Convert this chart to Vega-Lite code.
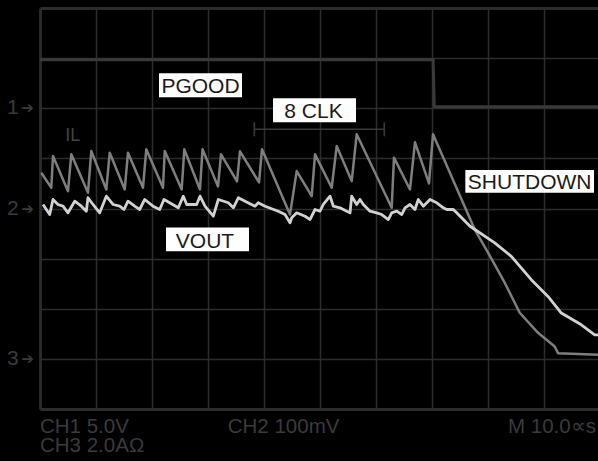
{
  "$schema": "https://vega.github.io/schema/vega-lite/v6.json",
  "width": 558,
  "height": 401,
  "autosize": {"type": "none"},
  "padding": {"left": 40, "top": 8, "right": 0, "bottom": 52},
  "background": "#000000",
  "config": {"view": {"stroke": null}, "text": {"font": "Liberation Sans"}},
  "datasets": {
    "xminor": [
      {"x":0.2},{"x":0.4},{"x":0.6},{"x":0.8},{"x":1.2},{"x":1.4},{"x":1.6},{"x":1.8},
      {"x":2.2},{"x":2.4},{"x":2.6},{"x":2.8},{"x":3.2},{"x":3.4},{"x":3.6},{"x":3.8},
      {"x":4.2},{"x":4.4},{"x":4.6},{"x":4.8},{"x":5.2},{"x":5.4},{"x":5.6},{"x":5.8},
      {"x":6.2},{"x":6.4},{"x":6.6},{"x":6.8},{"x":7.2},{"x":7.4},{"x":7.6},{"x":7.8},
      {"x":8.2},{"x":8.4},{"x":8.6},{"x":8.8},{"x":9.2},{"x":9.4},{"x":9.6},{"x":9.8}
    ],
    "yminor": [
      {"y":0.2},{"y":0.4},{"y":0.6},{"y":0.8},{"y":1.2},{"y":1.4},{"y":1.6},{"y":1.8},
      {"y":2.2},{"y":2.4},{"y":2.6},{"y":2.8},{"y":3.2},{"y":3.4},{"y":3.6},{"y":3.8},
      {"y":4.2},{"y":4.4},{"y":4.6},{"y":4.8},{"y":5.2},{"y":5.4},{"y":5.6},{"y":5.8},
      {"y":6.2},{"y":6.4},{"y":6.6},{"y":6.8},{"y":7.2},{"y":7.4},{"y":7.6},{"y":7.8}
    ],
    "pgood": [
      {"x":0,"y":6.97},{"x":7.02,"y":6.97},{"x":7.04,"y":6.03},{"x":9.964,"y":6.03}
    ],
    "il": [
      {"x":0.023,"y":4.714},{"x":0.202,"y":4.414},{"x":0.232,"y":5.046},{"x":0.5,"y":4.346},
      {"x":0.559,"y":5.08},{"x":0.857,"y":4.314},{"x":0.916,"y":5.146},{"x":1.184,"y":4.38},
      {"x":1.245,"y":5.114},{"x":1.513,"y":4.38},{"x":1.571,"y":5.114},{"x":1.839,"y":4.414},
      {"x":1.898,"y":5.18},{"x":2.196,"y":4.414},{"x":2.227,"y":5.146},{"x":2.53,"y":4.38},
      {"x":2.577,"y":5.18},{"x":2.857,"y":4.38},{"x":2.902,"y":5.18},{"x":3.179,"y":4.44},
      {"x":3.232,"y":5.08},{"x":3.518,"y":4.54},{"x":3.571,"y":5.14},{"x":3.911,"y":4.52},
      {"x":3.964,"y":5.18},{"x":4.464,"y":3.88},{"x":4.584,"y":4.746},{"x":4.852,"y":4.246},
      {"x":4.911,"y":5.08},{"x":5.209,"y":4.414},{"x":5.298,"y":5.246},{"x":5.566,"y":4.546},
      {"x":5.655,"y":5.48},{"x":6.28,"y":4.014},{"x":6.321,"y":5.014},{"x":6.607,"y":4.38},
      {"x":6.696,"y":5.32},{"x":6.946,"y":4.5},{"x":7.018,"y":5.48},{"x":7.763,"y":3.58},
      {"x":8.0,"y":3.12},{"x":8.298,"y":2.52},{"x":8.566,"y":1.92},{"x":8.893,"y":1.52},
      {"x":9.191,"y":1.246},{"x":9.25,"y":1.114},{"x":9.964,"y":1.08}
    ],
    "vout": [
      {"x":0.054,"y":4.08},{"x":0.173,"y":3.88},{"x":0.232,"y":4.18},{"x":0.321,"y":4.08},
      {"x":0.411,"y":4.046},{"x":0.5,"y":3.914},{"x":0.62,"y":4.146},{"x":0.738,"y":4.046},
      {"x":0.827,"y":3.946},{"x":0.857,"y":4.214},{"x":0.946,"y":4.08},{"x":1.066,"y":3.914},
      {"x":1.184,"y":4.246},{"x":1.304,"y":4.08},{"x":1.423,"y":4.046},{"x":1.5,"y":3.98},
      {"x":1.571,"y":4.146},{"x":1.691,"y":4.046},{"x":1.78,"y":3.98},{"x":1.87,"y":4.18},
      {"x":2.018,"y":4.046},{"x":2.138,"y":3.98},{"x":2.214,"y":4.18},{"x":2.47,"y":4.014},
      {"x":2.559,"y":4.246},{"x":2.62,"y":4.08},{"x":2.798,"y":4.08},{"x":2.857,"y":4.246},
      {"x":2.946,"y":4.046},{"x":3.095,"y":3.846},{"x":3.184,"y":4.18},{"x":3.363,"y":4.114},
      {"x":3.452,"y":4.014},{"x":3.541,"y":4.214},{"x":3.661,"y":4.146},{"x":3.839,"y":4.046},
      {"x":3.898,"y":4.114},{"x":4.018,"y":4.046},{"x":4.255,"y":3.946},{"x":4.375,"y":3.88},
      {"x":4.464,"y":3.714},{"x":4.495,"y":3.814},{"x":4.584,"y":3.914},{"x":4.732,"y":3.846},
      {"x":4.821,"y":3.78},{"x":4.911,"y":3.98},{"x":5.0,"y":3.946},{"x":5.059,"y":4.08},
      {"x":5.179,"y":4.246},{"x":5.238,"y":4.046},{"x":5.357,"y":4.014},{"x":5.477,"y":3.946},
      {"x":5.536,"y":3.914},{"x":5.566,"y":4.246},{"x":5.655,"y":4.08},{"x":5.714,"y":4.18},
      {"x":5.773,"y":4.08},{"x":5.893,"y":3.946},{"x":6.013,"y":3.914},{"x":6.102,"y":3.88},
      {"x":6.22,"y":3.78},{"x":6.28,"y":3.914},{"x":6.37,"y":3.946},{"x":6.459,"y":3.88},
      {"x":6.518,"y":4.014},{"x":6.607,"y":4.08},{"x":6.696,"y":3.98},{"x":6.755,"y":4.18},
      {"x":6.845,"y":4.046},{"x":6.964,"y":4.18},{"x":7.084,"y":4.114},{"x":7.202,"y":4.014},
      {"x":7.263,"y":3.98},{"x":7.38,"y":3.98},{"x":7.441,"y":3.914},{"x":7.559,"y":3.78},
      {"x":7.679,"y":3.646},{"x":8.12,"y":3.314},{"x":8.416,"y":3.046},{"x":8.773,"y":2.58},
      {"x":9.071,"y":2.246},{"x":9.309,"y":1.914},{"x":9.666,"y":1.68},{"x":9.905,"y":1.48},
      {"x":9.964,"y":1.48}
    ],
    "clkbar": [
      {"x":3.827,"x2":6.148,"y":5.58,"y2":5.58},
      {"x":3.827,"x2":3.827,"y":5.44,"y2":5.72},
      {"x":6.148,"x2":6.148,"y":5.44,"y2":5.72}
    ],
    "boxes": [
      {"x":2.125,"x2":3.607,"y":6.7,"y2":6.22},
      {"x":4.161,"x2":5.643,"y":6.2,"y2":5.72},
      {"x":7.595,"x2":9.893,"y":4.766,"y2":4.314},
      {"x":2.25,"x2":3.732,"y":3.62,"y2":3.146}
    ],
    "boxtext": [
      {"x":2.866,"y":6.314,"t":"PGOOD"},
      {"x":4.884,"y":5.814,"t":"8 CLK"},
      {"x":8.744,"y":4.394,"t":"SHUTDOWN"},
      {"x":2.946,"y":3.214,"t":"VOUT"}
    ],
    "bottomtext": [
      {"x":0,"y":-0.48,"t":"CH1 5.0V"},
      {"x":3.352,"y":-0.48,"t":"CH2 100mV"},
      {"x":8.357,"y":-0.48,"t":"M 10.0∝s"},
      {"x":0,"y":-0.86,"t":"CH3 2.0AΩ"}
    ],
    "chdigits": [
      {"x":-0.59,"y":5.88,"t":"1"},
      {"x":-0.59,"y":3.88,"t":"2"},
      {"x":-0.59,"y":0.88,"t":"3"}
    ],
    "charrows": [
      {"x":-0.335,"y":6,"t":"➔"},
      {"x":-0.335,"y":4,"t":"➔"},
      {"x":-0.335,"y":1,"t":"➔"}
    ],
    "iltext": [
      {"x":0.452,"y":5.346,"t":"IL"}
    ]
  },
  "encoding": {
    "x": {
      "field": "x", "type": "quantitative",
      "scale": {"domain": [0, 9.964], "nice": false, "zero": false},
      "axis": {
        "values": [0,1,2,3,4,5,6,7,8,9],
        "grid": true, "gridColor": "#2c2c2c",
        "gridWidth": {"condition": {"test": "datum.value === 0", "value": 2.8}, "value": 1.5},
        "ticks": false, "labels": false, "domain": false, "title": null
      }
    },
    "y": {
      "field": "y", "type": "quantitative",
      "scale": {"domain": [0, 8], "nice": false, "zero": false},
      "axis": {
        "values": [0,1,2,3,4,5,6,7,8],
        "grid": true, "gridColor": "#2c2c2c",
        "gridWidth": {"condition": {"test": "datum.value === 0 || datum.value === 8", "value": 2.8}, "value": 1.5},
        "ticks": false, "labels": false, "domain": false, "title": null
      }
    }
  },
  "layer": [
    {"data": {"name": "xminor"}, "mark": {"type": "rule", "color": "#2c2c2c", "strokeWidth": 1.5},
     "encoding": {"y": {"datum": 0}, "y2": {"datum": 0.1}}},
    {"data": {"name": "xminor"}, "mark": {"type": "rule", "color": "#2c2c2c", "strokeWidth": 1.5},
     "encoding": {"y": {"datum": 7.9}, "y2": {"datum": 8}}},
    {"data": {"name": "xminor"}, "mark": {"type": "rule", "color": "#2c2c2c", "strokeWidth": 1.5},
     "encoding": {"y": {"datum": 3.92}, "y2": {"datum": 4.08}}},
    {"data": {"name": "yminor"}, "mark": {"type": "rule", "color": "#2c2c2c", "strokeWidth": 1.5},
     "encoding": {"x": {"datum": 0}, "x2": {"datum": 0.09}}},
    {"data": {"name": "yminor"}, "mark": {"type": "rule", "color": "#2c2c2c", "strokeWidth": 1.5},
     "encoding": {"x": {"datum": 4.93}, "x2": {"datum": 5.07}}},
    {"data": {"name": "pgood"}, "mark": {"type": "line", "color": "#3a3a3a", "strokeWidth": 3, "strokeJoin": "miter"}},
    {"data": {"name": "clkbar"}, "mark": {"type": "rule", "color": "#3a3a3a", "strokeWidth": 1.6},
     "encoding": {"x2": {"field": "x2"}, "y2": {"field": "y2"}}},
    {"data": {"name": "il"}, "mark": {"type": "line", "color": "#7e7e7e", "strokeWidth": 2.5, "strokeJoin": "round"}},
    {"data": {"name": "vout"}, "mark": {"type": "line", "color": "#d2d2d2", "strokeWidth": 2.8, "strokeJoin": "round"}},
    {"data": {"name": "boxes"}, "mark": {"type": "rect", "color": "#ffffff"},
     "encoding": {"x2": {"field": "x2"}, "y2": {"field": "y2"}}},
    {"data": {"name": "boxtext"}, "mark": {"type": "text", "color": "#1a1a1a", "fontSize": 21, "align": "center", "baseline": "alphabetic"},
     "encoding": {"text": {"field": "t"}}},
    {"data": {"name": "bottomtext"}, "mark": {"type": "text", "color": "#3a3a3a", "fontSize": 20.5, "align": "left", "baseline": "alphabetic"},
     "encoding": {"text": {"field": "t"}}},
    {"data": {"name": "chdigits"}, "mark": {"type": "text", "color": "#3a3a3a", "fontSize": 21, "align": "left", "baseline": "alphabetic"},
     "encoding": {"text": {"field": "t"}}},
    {"data": {"name": "charrows"}, "mark": {"type": "text", "color": "#3a3a3a", "font": "DejaVu Sans", "fontSize": 15, "align": "left", "baseline": "middle"},
     "encoding": {"text": {"field": "t"}}},
    {"data": {"name": "iltext"}, "mark": {"type": "text", "color": "#444444", "fontSize": 18, "align": "left", "baseline": "alphabetic"},
     "encoding": {"text": {"field": "t"}}}
  ]
}
